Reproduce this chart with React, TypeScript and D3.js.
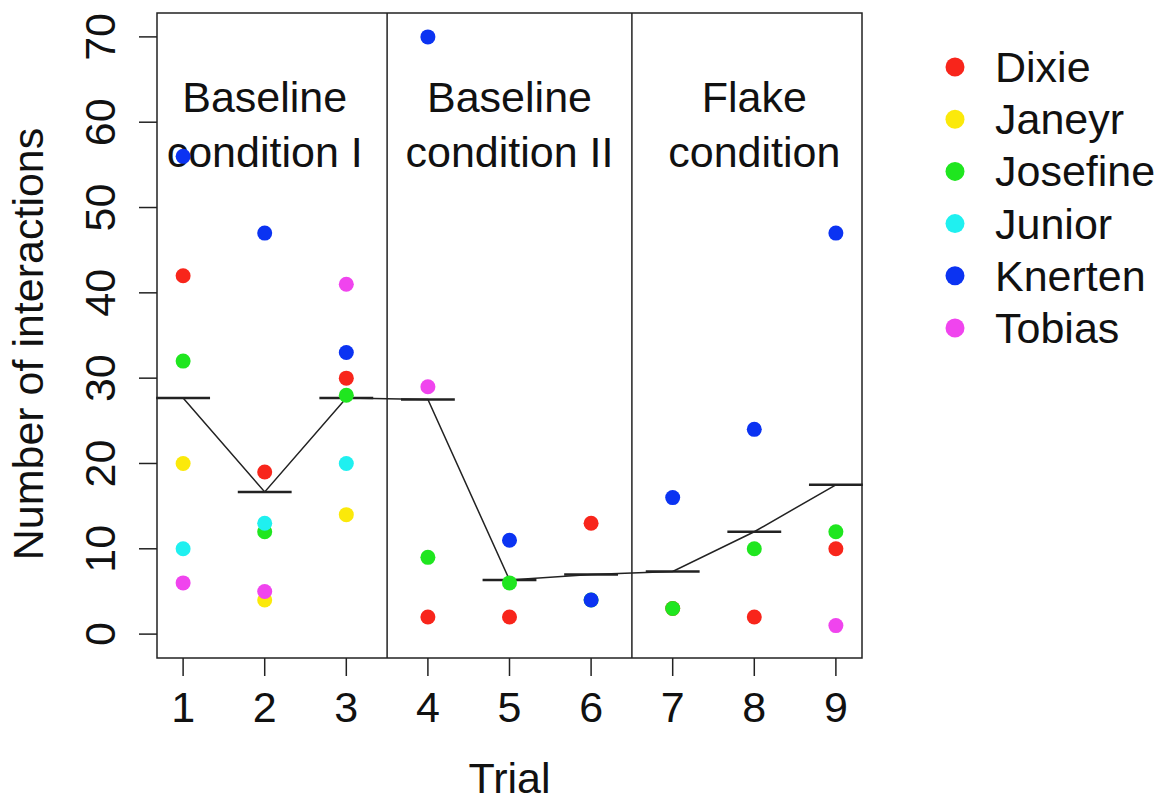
import * as d3 from 'd3';

const trials = [1, 2, 3, 4, 5, 6, 7, 8, 9];
const names = ['Dixie', 'Janeyr', 'Josefine', 'Junior', 'Knerten', 'Tobias'];
const colors = ['#f8251b', '#fbe90a', '#1fe61f', '#1ff0f0', '#0b33f2', '#f044ee'];

// interactions per trial (null = not recorded)
const dixie = [42, 19, 30, 2, 2, 13, 3, 2, 10];
const janeyr = [20, 4, 14, null, null, null, null, null, null];
const josefine = [32, 12, 28, 9, 6, 4, 3, 10, 12];
const junior = [10, 13, 20, null, null, null, null, null, null];
const knerten = [56, 47, 33, 70, 11, 4, 16, 24, 47];
const tobias = [6, 5, 41, 29, null, null, null, null, 1];
const series = [dixie, janeyr, josefine, junior, knerten, tobias];

const yTicks = [0, 10, 20, 30, 40, 50, 60, 70];
const dividers = [3.5, 6.5];
const conditions = [
  { x: 2, lines: ['Baseline', 'condition I'] },
  { x: 5, lines: ['Baseline', 'condition II'] },
  { x: 8, lines: ['Flake', 'condition'] },
];

const W = 1168;
const H = 801;
const left = 157, right = 862, top = 13, bottom = 658;
const font = '"Liberation Sans", Arial, Helvetica, sans-serif';
const fs = 43;

export default function App() {
  const x = d3.scaleLinear().domain([0.68, 9.32]).range([left, right]);
  const y = d3.scaleLinear().domain([-2.8, 72.8]).range([bottom, top]);

  const means = trials.map((t, i) => ({
    t,
    m: d3.mean(series.map(s => s[i]).filter(v => v != null) as number[]) as number,
  }));
  const line = d3.line<{ t: number; m: number }>().x(d => x(d.t)).y(d => y(d.m));
  const half = 0.33;

  return (
    <svg width={W} height={H} style={{ position: 'absolute', left: 0, top: 0, background: '#fff' }} fontFamily={font}>
      {/* dividers */}
      {dividers.map(d => (
        <line key={d} x1={x(d)} x2={x(d)} y1={top} y2={bottom} stroke="#222" strokeWidth={1.5} />
      ))}

      {/* condition labels */}
      {conditions.map(c => (
        <text key={c.lines[1]} x={x(c.x)} textAnchor="middle" fontSize={fs} fill="#111">
          <tspan x={x(c.x)} y={112}>{c.lines[0]}</tspan>
          <tspan x={x(c.x)} y={167}>{c.lines[1]}</tspan>
        </text>
      ))}

      {/* mean line + bars */}
      <path d={line(means) || ''} fill="none" stroke="#222" strokeWidth={1.5} />
      {means.map(d => (
        <line key={d.t} x1={x(d.t - half)} x2={x(d.t + half)} y1={y(d.m)} y2={y(d.m)} stroke="#222" strokeWidth={2.5} />
      ))}

      {/* points */}
      {series.map((s, si) =>
        s.map((v, i) =>
          v == null ? null : (
            <circle key={names[si] + i} cx={x(trials[i])} cy={y(v)} r={7.5} fill={colors[si]} />
          )
        )
      )}

      {/* box */}
      <rect x={left} y={top} width={right - left} height={bottom - top} fill="none" stroke="#222" strokeWidth={1.5} />

      {/* x axis */}
      {trials.map(t => (
        <g key={t}>
          <line x1={x(t)} x2={x(t)} y1={bottom} y2={bottom + 18} stroke="#222" strokeWidth={1.5} />
          <text x={x(t)} y={722} textAnchor="middle" fontSize={fs} fill="#111">{t}</text>
        </g>
      ))}
      <text x={(left + right) / 2} y={793} textAnchor="middle" fontSize={fs} fill="#111">Trial</text>

      {/* y axis */}
      {yTicks.map(t => (
        <g key={t}>
          <line x1={left - 18} x2={left} y1={y(t)} y2={y(t)} stroke="#222" strokeWidth={1.5} />
          <text transform={`translate(115,${y(t)}) rotate(-90)`} textAnchor="middle" fontSize={fs} fill="#111">{t}</text>
        </g>
      ))}
      <text transform={`translate(43,${344}) rotate(-90)`} textAnchor="middle" fontSize={fs} fill="#111">
        Number of interactions
      </text>

      {/* legend */}
      {names.map((n, i) => (
        <g key={n} transform={`translate(955,${67 + i * 52.2})`}>
          <circle r={9.5} fill={colors[i]} />
          <text x={40} dy="0.35em" fontSize={fs} fill="#111">{n}</text>
        </g>
      ))}
    </svg>
  );
}
